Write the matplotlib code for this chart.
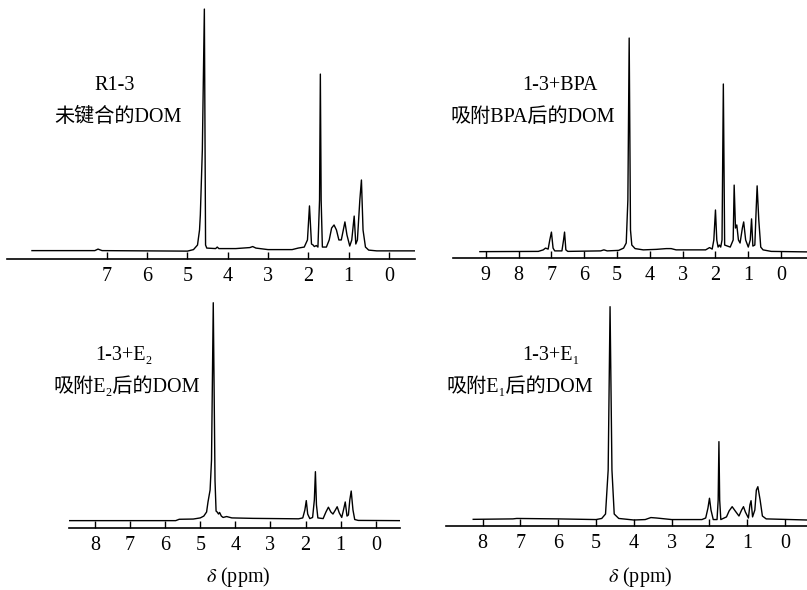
import matplotlib
matplotlib.use("Agg")
import matplotlib.pyplot as plt

plt.rcParams["font.family"] = ["Liberation Serif", "Noto Sans CJK SC", "DejaVu Sans"]
plt.rcParams["mathtext.fontset"] = "stix"

# R1-3, unbound DOM
r13_ppm = [8.86, 7.30, 7.22, 7.12, 5.00, 4.85, 4.75, 4.70, 4.68, 4.63, 4.58, 4.55, 4.52,
           4.30, 4.26, 4.22, 3.80, 3.45, 3.38, 3.30, 3.00, 2.40, 2.25, 2.10, 2.02, 1.97,
           1.92, 1.88, 1.85, 1.80, 1.76, 1.72, 1.70, 1.68, 1.65, 1.55, 1.48, 1.42, 1.36,
           1.30, 1.24, 1.18, 1.12, 1.09, 1.04, 0.97, 0.92, 0.86, 0.82, 0.78, 0.72, 0.68,
           0.64, 0.58, 0.50, 0.30, -0.65]
r13_int = [3.3, 3.3, 3.9, 3.3, 3.1, 3.7, 5.5, 11.4, 17.3, 42.9, 98.4, 5.5, 4.3,
           4.1, 4.7, 4.1, 4.1, 4.5, 4.9, 4.3, 3.7, 3.7, 4.3, 4.7, 7.5, 20.9,
           5.9, 5.5, 4.9, 5.3, 4.7, 23.2, 72.8, 23.2, 4.7, 4.7, 7.5, 12.2, 13.4,
           11.4, 7.5, 7.5, 12.2, 14.6, 9.5, 5.1, 7.5, 16.9, 5.9, 7.5, 23.2, 31.1,
           11.4, 4.7, 3.5, 3.2, 3.2]

# 1-3 + BPA
bpa_ppm = [9.18, 7.40, 7.25, 7.18, 7.10, 7.05, 7.00, 6.95, 6.90, 6.68, 6.63, 6.60, 6.56,
           6.50, 5.50, 5.40, 5.30, 4.95, 4.80, 4.72, 4.67, 4.63, 4.59, 4.55, 4.45, 4.20,
           3.80, 3.50, 3.35, 3.20, 2.30, 2.18, 2.10, 2.05, 2.00, 1.96, 1.92, 1.88, 1.84,
           1.80, 1.76, 1.72, 1.55, 1.46, 1.43, 1.39, 1.35, 1.30, 1.25, 1.18, 1.14, 1.08,
           1.00, 0.94, 0.90, 0.86, 0.80, 0.76, 0.73, 0.68, 0.62, 0.55, 0.30, -0.79]
bpa_int = [2.5, 2.6, 3.2, 3.9, 3.5, 7.1, 10.2, 3.9, 2.8, 2.8, 7.1, 10.2, 3.2,
           2.6, 2.8, 3.2, 2.8, 3.0, 3.9, 5.9, 22.8, 86.6, 11.0, 5.1, 3.7, 3.2,
           3.4, 3.7, 3.7, 3.2, 3.2, 4.1, 3.5, 7.1, 18.9, 7.1, 4.3, 5.1, 4.3,
           7.1, 68.5, 5.1, 4.3, 7.1, 28.7, 11.8, 13.0, 7.1, 5.9, 11.8, 14.2, 7.1,
           4.3, 7.1, 15.4, 4.7, 5.1, 18.9, 28.4, 15.0, 4.3, 3.2, 2.6, 2.4]

# 1-3 + E2
e2_ppm = [8.74, 5.70, 5.60, 5.20, 5.00, 4.90, 4.82, 4.78, 4.72, 4.68, 4.63, 4.58, 4.55,
          4.52, 4.48, 4.45, 4.40, 4.35, 4.25, 4.10, 3.50, 2.20, 2.08, 2.02, 1.98, 1.94,
          1.88, 1.80, 1.75, 1.72, 1.69, 1.65, 1.50, 1.42, 1.35, 1.28, 1.22, 1.15, 1.10,
          1.04, 0.97, 0.92, 0.87, 0.82, 0.78, 0.74, 0.70, 0.65, 0.60, 0.50, -0.69]
e2_int = [3.1, 3.1, 3.7, 3.8, 4.3, 5.1, 6.9, 11.3, 16.6, 29.7, 98.8, 20.6, 7.3,
          6.9, 6.0, 6.7, 5.1, 4.5, 4.9, 4.3, 4.1, 3.9, 4.3, 7.8, 11.9, 6.0,
          4.0, 4.5, 12.2, 24.6, 10.0, 4.3, 4.0, 6.9, 9.0, 6.9, 6.0, 7.8, 9.2,
          6.5, 4.5, 7.8, 11.3, 5.1, 5.6, 12.2, 16.1, 7.8, 3.6, 3.2, 3.1]

# 1-3 + E1
e1_ppm = [8.25, 7.20, 7.10, 6.00, 5.00, 4.85, 4.75, 4.68, 4.63, 4.58, 4.52, 4.40, 4.00,
          3.70, 3.55, 3.40, 3.00, 2.20, 2.10, 2.04, 2.00, 1.96, 1.90, 1.80, 1.77, 1.75,
          1.73, 1.70, 1.55, 1.48, 1.40, 1.32, 1.22, 1.15, 1.10, 1.05, 0.97, 0.93, 0.90,
          0.86, 0.80, 0.76, 0.72, 0.66, 0.60, 0.50, -0.58]
e1_int = [3.0, 3.2, 3.4, 3.2, 2.9, 3.4, 5.4, 25.2, 98.8, 25.2, 5.4, 3.4, 2.7,
          2.9, 3.8, 3.6, 2.9, 2.9, 3.6, 8.1, 12.5, 7.2, 2.9, 2.9, 11.7, 38.0,
          11.7, 2.9, 4.1, 6.8, 8.7, 6.8, 4.5, 7.2, 8.7, 6.3, 3.6, 9.5, 11.4,
          4.1, 7.2, 16.2, 17.7, 11.7, 4.5, 3.2, 2.7]

r13_ticks = [7, 6, 5, 4, 3, 2, 1, 0]
bpa_ticks = [9, 8, 7, 6, 5, 4, 3, 2, 1, 0]
e2_ticks = [8, 7, 6, 5, 4, 3, 2, 1, 0]
e1_ticks = [8, 7, 6, 5, 4, 3, 2, 1, 0]

W, H = 807, 590


def make_axes(fig, x0, x1, y_axis, y_top):
    # pixel box -> figure fraction
    return fig.add_axes([x0 / W, 1 - y_axis / H, (x1 - x0) / W, (y_axis - y_top) / H])


def draw_panel(ax, ppm, inten, xlim, ticks):
    ax.plot(ppm, inten, color="black", lw=1.0)
    ax.set_xlim(xlim)
    ax.set_ylim(0, 100)
    for side in ["top", "left", "right"]:
        ax.spines[side].set_visible(False)
    ax.spines["bottom"].set_linewidth(1.2)
    ax.set_yticks([])
    ax.set_xticks(ticks)
    ax.set_xticklabels([str(t) for t in ticks])
    ax.tick_params(axis="x", direction="in", length=5, width=1.0, labelsize=14.5, pad=6)
    ax.patch.set_alpha(0)


fig = plt.figure(figsize=(W / 100, H / 100), dpi=100)

ax1 = make_axes(fig, 7, 415, 259, 5)
draw_panel(ax1, r13_ppm, r13_int, (9.48, -0.65), r13_ticks)

ax2 = make_axes(fig, 453, 807, 258, 4)
draw_panel(ax2, bpa_ppm, bpa_int, (10.0, -0.79), bpa_ticks)

ax3 = make_axes(fig, 69, 400, 527.7, 300)
draw_panel(ax3, e2_ppm, e2_int, (8.74, -0.69), e2_ticks)

ax4 = make_axes(fig, 446, 807, 526, 304)
draw_panel(ax4, e1_ppm, e1_int, (8.97, -0.58), e1_ticks)


def label(x, y, s):
    fig.text(x / W, 1 - y / H, s, ha="center", va="center", fontsize=14.5)


label(115, 86, "R1-3")
label(118, 117, "未键合的DOM")
label(560, 86, "1-3+BPA")
label(533, 117, "吸附BPA后的DOM")
label(124, 355, "1-3+E\u2082")
label(127, 387, "吸附E\u2082后的DOM")
label(551, 355, "1-3+E\u2081")
label(520, 387, "吸附E\u2081后的DOM")
label(238, 577, r"$\delta$ (ppm)")
label(640, 577, r"$\delta$ (ppm)")

fig.savefig("out.png", dpi=100)
